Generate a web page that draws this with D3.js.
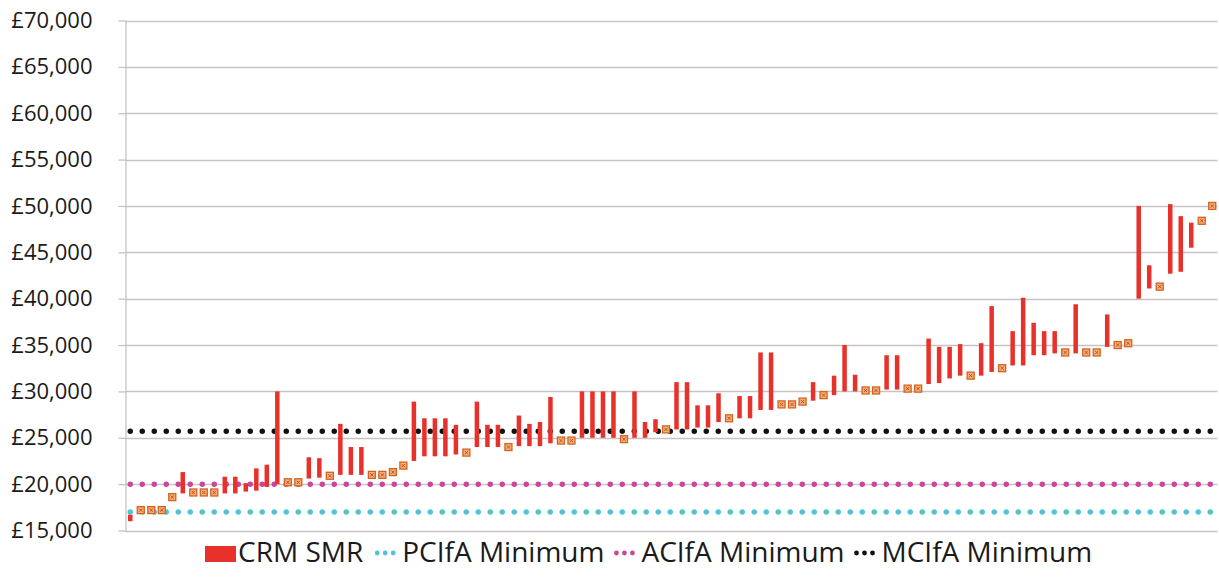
<!DOCTYPE html>
<html>
<head>
<meta charset="utf-8">
<script src="https://cdn.jsdelivr.net/npm/d3@7"></script>
<style>
  html, body { margin: 0; padding: 0; background: #ffffff; }
  svg { display: block; }
  text { font-family: "Open Sans", "DejaVu Sans", sans-serif; fill: #1a1a1a; }
</style>
</head>
<body>
<svg id="chart" width="1219" height="577"></svg>
<script>
// ---- data ----
const lows = [
  16000, 17200, 17200, 17200, 18600, 19000, 19100, 19100, 19100, 19000,
  19000, 19200, 19300, 19700, 20000, 20200, 20200, 20600, 20700, 20900,
  21000, 21000, 21000, 21000, 21000, 21300, 22000, 22500, 23000, 23000,
  23000, 23200, 23400, 24000, 24000, 24000, 24000, 24100, 24100, 24100,
  24400, 24700, 24700, 25000, 25000, 25000, 25000, 24850, 25000, 25000,
  25600, 25900, 25900, 25900, 26100, 26100, 26700, 27100, 27100, 27100,
  28000, 28000, 28600, 28600, 28900, 29000, 29600, 29600, 30000, 30000,
  30100, 30100, 30200, 30200, 30300, 30300, 30800, 30900, 31400, 31700,
  31700, 31700, 32100, 32500, 32800, 32800, 33900, 33900, 34100, 34200,
  34100, 34200, 34200, 34800, 35000, 35200, 40000, 41100, 41300, 42700,
  42900, 45500, 48400, 50000
];
const highs = [
  16700, 17200, 17200, 17200, 18600, 21300, 19100, 19100, 19100, 20800,
  20800, 20100, 21700, 22100, 30000, 20200, 20200, 22900, 22800, 20900,
  26500, 24000, 24000, 21000, 21000, 21300, 22000, 28900, 27100, 27100,
  27100, 26400, 23400, 28900, 26400, 26400, 24000, 27400, 26500, 26700,
  29400, 24700, 24700, 30000, 30000, 30000, 30000, 24850, 30000, 26700,
  27000, 25900, 31000, 31000, 28500, 28500, 29800, 27100, 29500, 29500,
  34200, 34200, 28600, 28600, 28900, 31000, 29600, 31700, 35000, 31800,
  30100, 30100, 33900, 33900, 30300, 30300, 35700, 34800, 34800, 35100,
  31700, 35200, 39200, 32500, 36500, 40100, 37400, 36500, 36500, 34200,
  39400, 34200, 34200, 38300, 35000, 35200, 50000, 43600, 41300, 50200,
  48900, 48200, 48400, 50000
];
const categories = lows.map((d, i) => "Role " + (i + 1));
const yTicks = [15000, 20000, 25000, 30000, 35000, 40000, 45000, 50000, 55000, 60000, 65000, 70000];
const refNames = ["PCIfA Minimum", "ACIfA Minimum", "MCIfA Minimum"];
const refValues = [17000, 20000, 25700];
const refColors = ["#52c3d3", "#c8469b", "#111111"];
const seriesName = "CRM SMR";

// ---- layout ----
const svg = d3.select("#chart");
const plotL = 125, plotR = 1217.5, plotT = 20.5, plotB = 530.5;

const x = d3.scaleBand().domain(categories).range([plotL, plotR]).paddingInner(0).paddingOuter(0);
const y = d3.scaleLinear().domain([15000, 70000]).range([plotB, plotT]);

const gridColor = "#c9c2c2";

// gridlines
svg.append("g").selectAll("line").data(yTicks).join("line")
  .attr("x1", plotL).attr("x2", plotR)
  .attr("y1", d => Math.round(y(d)) + 0.5).attr("y2", d => Math.round(y(d)) + 0.5)
  .attr("stroke", gridColor).attr("stroke-width", 1.3);

// y axis
const fmt = d => "£" + d3.format(",")(d);
const yAxis = d3.axisLeft(y).tickValues(yTicks).tickFormat(fmt).tickSizeInner(7).tickSizeOuter(0).tickPadding(26);
const gy = svg.append("g").attr("transform", `translate(${plotL + 0.5},0)`).call(yAxis);
gy.select(".domain").attr("stroke", gridColor).attr("stroke-width", 1.3);
gy.selectAll(".tick line").attr("stroke", gridColor).attr("stroke-width", 1.3);
gy.selectAll(".tick text").attr("font-size", 22).attr("fill", "#1a1a1a")
  .style("font-family", '"Open Sans", sans-serif');

// reference dotted lines
refValues.forEach((v, i) => {
  svg.append("line")
    .attr("x1", x(categories[0]) + x.bandwidth() / 2).attr("x2", plotR)
    .attr("y1", y(v)).attr("y2", y(v))
    .attr("stroke", refColors[i]).attr("stroke-width", 5.5)
    .attr("stroke-linecap", "round").attr("stroke-dasharray", "0 12");
});

// data marks
const data = categories.map((c, i) => ({ c, lo: lows[i], hi: highs[i] }));
const barW = 4.5;
svg.append("g").selectAll("rect").data(data.filter(d => d.hi > d.lo)).join("rect")
  .attr("x", d => x(d.c) + x.bandwidth() / 2 - barW / 2)
  .attr("width", barW)
  .attr("y", d => y(d.hi))
  .attr("height", d => y(d.lo) - y(d.hi))
  .attr("fill", "#e8312a");

const ms = 7;
const marks = svg.append("g").selectAll("g").data(data.filter(d => d.hi === d.lo)).join("g")
  .attr("transform", d => `translate(${x(d.c) + x.bandwidth() / 2},${y(d.lo)})`);
marks.append("rect")
  .attr("x", -ms / 2).attr("y", -ms / 2).attr("width", ms).attr("height", ms)
  .attr("fill", "#f3b07c").attr("stroke", "#d5621e").attr("stroke-width", 1.3);
marks.append("path")
  .attr("d", "M-1.6,-1.6L1.6,1.6M-1.6,1.6L1.6,-1.6")
  .attr("stroke", "#c0501a").attr("stroke-width", 1);

// legend
const lg = svg.append("g").attr("transform", "translate(0,562)");
let cx = 205;
lg.append("rect").attr("x", cx).attr("y", -16).attr("width", 31).attr("height", 16).attr("fill", "#e8312a");
cx += 33;
const t0 = lg.append("text").attr("x", cx).attr("y", 0).attr("font-size", 28).text(seriesName);
cx += t0.node().getComputedTextLength() + 14;
refNames.forEach((n, i) => {
  for (let k = 0; k < 3; k++) {
    lg.append("circle").attr("cx", cx + k * 8).attr("cy", -9).attr("r", 2.4).attr("fill", refColors[i]);
  }
  cx += 25;
  const t = lg.append("text").attr("x", cx).attr("y", 0).attr("font-size", 28).text(n);
  cx += t.node().getComputedTextLength() + 12;
});
</script>
</body>
</html>
